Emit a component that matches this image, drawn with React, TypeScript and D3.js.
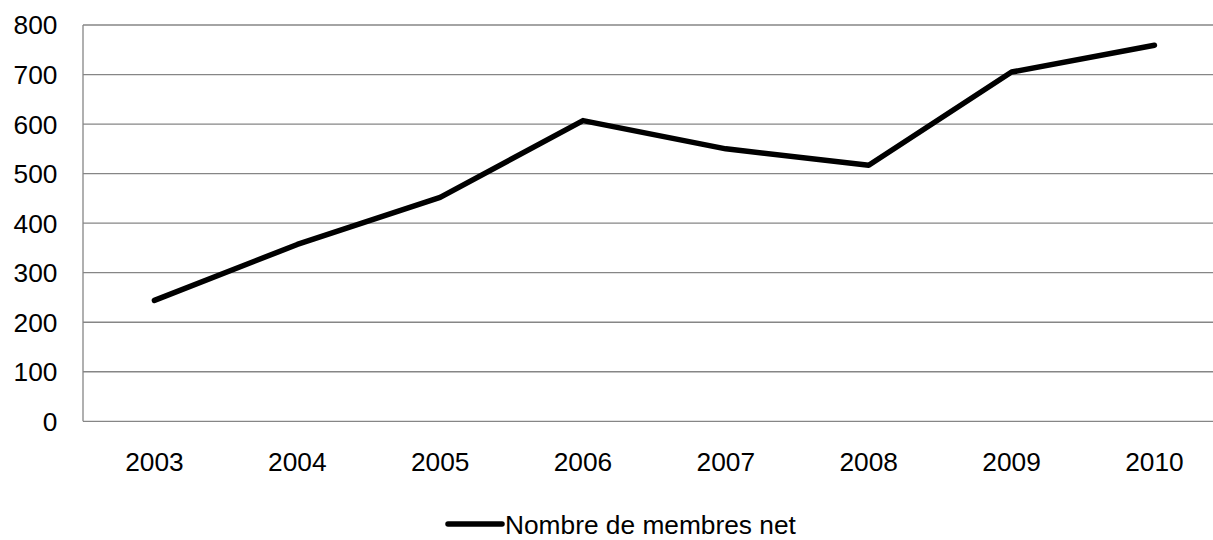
import React from "react";
import * as d3 from "d3";

const years = ["2003", "2004", "2005", "2006", "2007", "2008", "2009", "2010"];
const members = [244, 357, 452, 607, 550, 517, 705, 759];
const yTicks = [0, 100, 200, 300, 400, 500, 600, 700, 800];
const seriesName = "Nombre de membres net";

export default function App() {
  const W = 1213;
  const H = 540;
  const left = 83;
  const band = 1000 / 7;
  const x = d3.scaleBand<string>().domain(years).range([left, left + band * years.length]).padding(0);
  const y = d3.scaleLinear().domain([0, 800]).range([421.3, 25]);
  const cx = (d: string) => (x(d) as number) + x.bandwidth() / 2;
  const line = d3
    .line<number>()
    .x((_, i) => cx(years[i]))
    .y((v) => y(v));
  const font = "'Liberation Sans', Arial, sans-serif";
  const fs = 26.3;
  return (
    <svg
      width={W}
      height={H}
      style={{ position: "absolute", left: 0, top: 0, background: "#fff" }}
      fontFamily={font}
    >
      <rect x={0} y={0} width={W} height={H} fill="#fff" />
      {yTicks.map((t) => (
        <line key={t} x1={left} x2={left + band * 8} y1={y(t)} y2={y(t)} stroke="#868686" strokeWidth={1.3} />
      ))}
      <line x1={left} x2={left} y1={y(800)} y2={y(0)} stroke="#868686" strokeWidth={1.3} />
      {yTicks.map((t) => (
        <text key={t} x={57.5} y={y(t)} dy="0.36em" textAnchor="end" fontSize={fs} fill="#000">
          {t}
        </text>
      ))}
      {years.map((d) => (
        <text key={d} x={cx(d)} y={471} textAnchor="middle" fontSize={fs} fill="#000">
          {d}
        </text>
      ))}
      <path d={line(members) || ""} fill="none" stroke="#000" strokeWidth={5.5} strokeLinejoin="round" strokeLinecap="round" />
      <line x1={448} x2={502} y1={524} y2={524} stroke="#000" strokeWidth={5.5} strokeLinecap="round" />
      <text x={505} y={533.5} fontSize={fs} fill="#000">
        {seriesName}
      </text>
    </svg>
  );
}
